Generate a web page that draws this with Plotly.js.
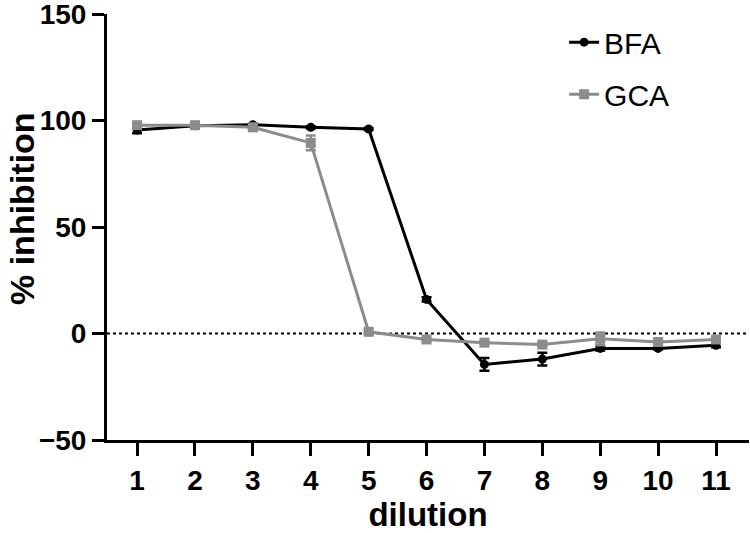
<!DOCTYPE html>
<html>
<head>
<meta charset="utf-8">
<script src="https://cdn.plot.ly/plotly-3.0.1.min.js"></script>
<style>html,body{margin:0;padding:0;background:#fff;}#chart{width:750px;height:533px;}</style>
</head>
<body>
<div id="chart"></div>
<script>
const dilution = [1, 2, 3, 4, 5, 6, 7, 8, 9, 10, 11];
const bfa = [95.5, 97.5, 98, 96.8, 96, 16, -14.5, -12, -7, -7, -5.5];
const bfaErr = [1.5, 0.5, 0.5, 0.5, 0.5, 1, 3, 3, 1, 0.5, 1];
const gca = [97.8, 97.8, 96.8, 89.5, 0.8, -2.8, -4.3, -5.2, -2.5, -4, -2.8];
const gcaErr = [0.8, 0.5, 1.5, 3.5, 0.5, 0.5, 0.5, 0.5, 3, 0.5, 1.5];
const xTicks = [1, 2, 3, 4, 5, 6, 7, 8, 9, 10, 11];
const yTickStart = -50;
const yTickStep = 50;
const yTitle = '% inhibition';
const xTitle = 'dilution';

const FONT = 'Liberation Sans, Arial, sans-serif';

const traces = [
  {
    x: dilution, y: bfa, name: 'BFA', legendgroup: 'a', type: 'scatter', mode: 'lines+markers',
    line: {color: '#000000', width: 3},
    marker: {symbol: 'circle', size: 9, color: '#000000'},
    error_y: {type: 'data', array: bfaErr, visible: true, color: '#000000', thickness: 2.5, width: 5}
  },
  {
    x: dilution, y: gca, name: 'GCA', legendgroup: 'b', type: 'scatter', mode: 'lines+markers',
    line: {color: '#8c8c8c', width: 3},
    marker: {symbol: 'square', size: 10, color: '#8c8c8c'},
    error_y: {type: 'data', array: gcaErr, visible: true, color: '#8c8c8c', thickness: 2.5, width: 5}
  }
];

const layout = {
  width: 750, height: 533,
  margin: {l: 107, r: 1, t: 14, b: 93},
  paper_bgcolor: '#ffffff', plot_bgcolor: '#ffffff',
  showlegend: true,
  legend: {
    x: 0.712, y: 0.995, xanchor: 'left', yanchor: 'top',
    font: {family: FONT, size: 30, color: '#000'},
    traceorder: 'grouped', tracegroupgap: 10, bgcolor: 'rgba(0,0,0,0)'
  },
  xaxis: {
    range: [0.48, 11.57],
    tickmode: 'array', tickvals: xTicks, ticktext: xTicks.map(String),
    showgrid: false, zeroline: false,
    showline: true, linecolor: '#000', linewidth: 3,
    ticks: 'outside', ticklen: 13, tickwidth: 3, tickcolor: '#000',
    tickfont: {family: FONT, size: 28, color: '#000', weight: 'bold'},
    title: {text: xTitle, font: {family: FONT, size: 33, color: '#000', weight: 'bold'}, standoff: 4}
  },
  yaxis: {
    range: [-50, 150],
    tickmode: 'linear', tick0: yTickStart, dtick: yTickStep,
    ticklabeloverflow: 'allow',
    showgrid: false, zeroline: false,
    showline: true, linecolor: '#000', linewidth: 3,
    ticks: 'outside', ticklen: 12, tickwidth: 3, tickcolor: '#000',
    tickfont: {family: FONT, size: 28, color: '#000', weight: 'bold'}
  },
  annotations: [{
    text: yTitle, xref: 'paper', yref: 'paper', x: -0.1324, y: 0.5446,
    xanchor: 'center', yanchor: 'middle', textangle: -90, showarrow: false,
    font: {family: FONT, size: 34, color: '#000', weight: 'bold'}
  }],
  shapes: [{
    type: 'line', xref: 'paper', yref: 'y', x0: 0, x1: 1, y0: 0, y1: 0,
    line: {color: '#000', width: 2, dash: 'dot'}, layer: 'below'
  }]
};

Plotly.newPlot('chart', traces, layout, {displayModeBar: false, staticPlot: true});
</script>
</body>
</html>
